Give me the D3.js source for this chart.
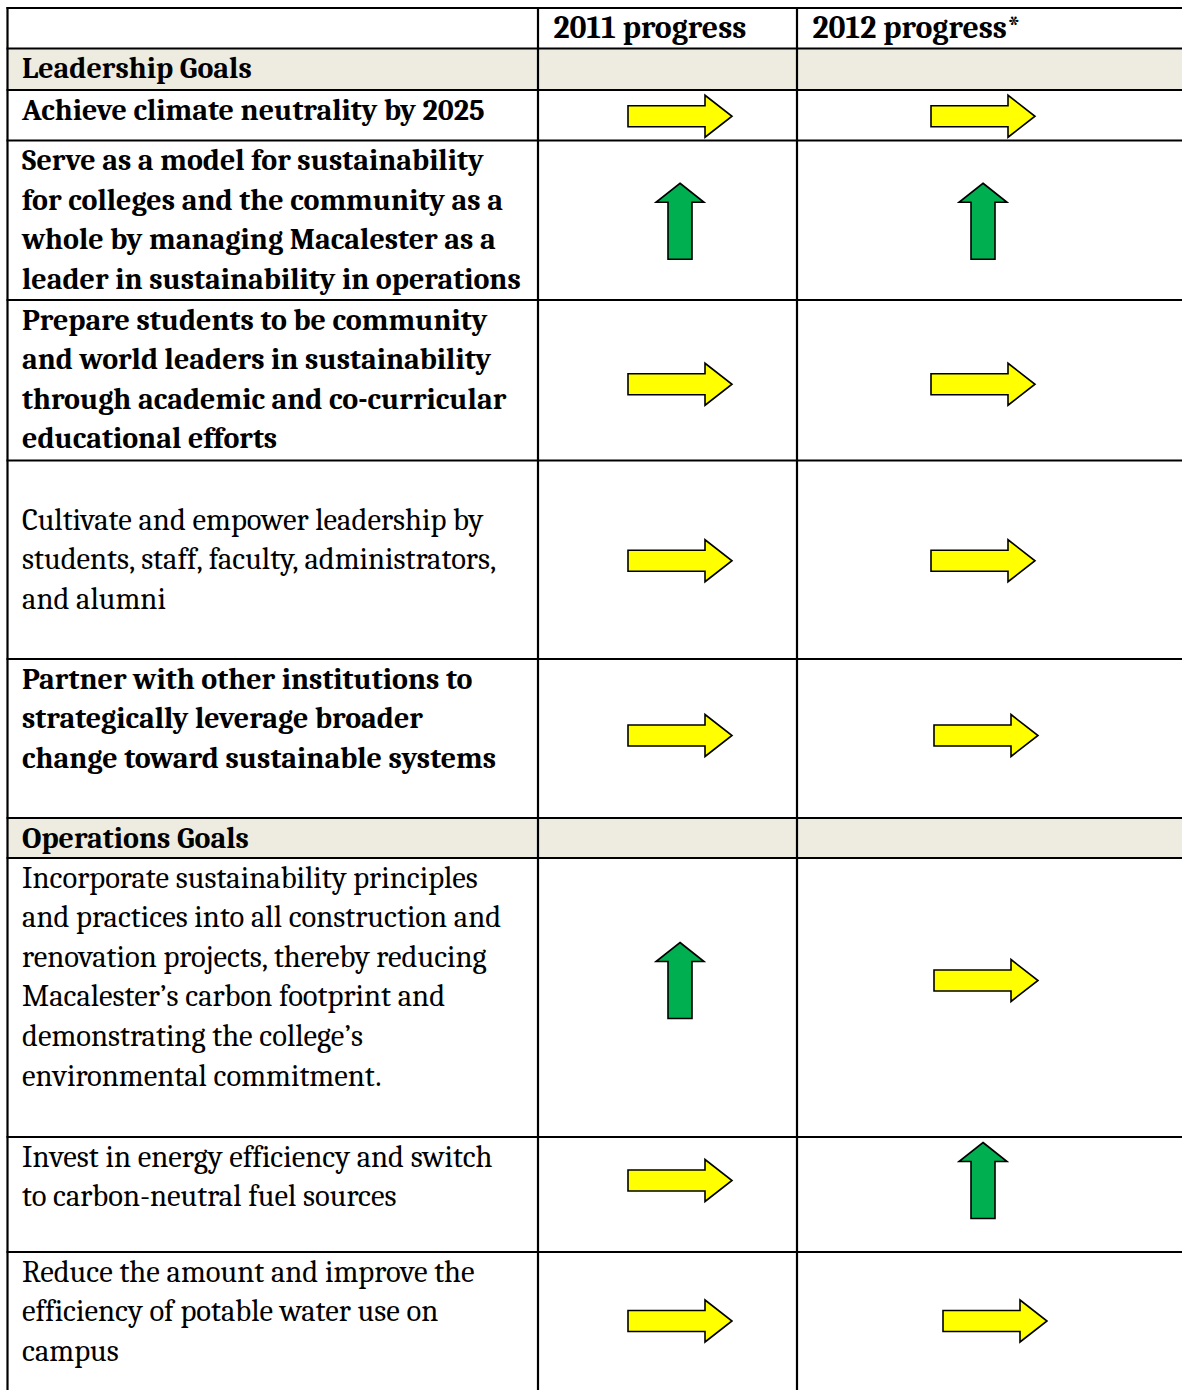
<!DOCTYPE html>
<html>
<head>
<meta charset="utf-8">
<script src="https://cdn.jsdelivr.net/npm/d3@7"></script>
<style>
  html, body { margin: 0; padding: 0; background: #ffffff; }
  svg { display: block; }
  text { font-family: "Caladea", "Cambria", "Liberation Serif", serif; font-size: 30.5px; fill: #000; }
</style>
</head>
<body>
<svg id="chart" width="1182" height="1390"></svg>
<script>
// ---------------- DATA ----------------
const columnHeaders = ["", "2011 progress", "2012 progress*"];

const rowKinds = ["header", "group", "goal", "goal", "goal", "goal", "goal", "group", "goal", "goal", "goal"];

const rowBold = [true, true, true, true, true, false, true, true, false, false, false];

const goalLines = [
  [],
  ["Leadership Goals"],
  ["Achieve climate neutrality by 2025"],
  ["Serve as a model for sustainability", "for colleges and the community as a", "whole by managing Macalester as a", "leader in sustainability in operations"],
  ["Prepare students to be community", "and world leaders in sustainability", "through academic and co-curricular", "educational efforts"],
  ["", "Cultivate and empower leadership by", "students, staff, faculty, administrators,", "and alumni"],
  ["Partner with other institutions to", "strategically leverage broader", "change toward sustainable systems"],
  ["Operations Goals"],
  ["Incorporate sustainability principles", "and practices into all construction and", "renovation projects, thereby reducing", "Macalester\u2019s carbon footprint and", "demonstrating the college\u2019s", "environmental commitment."],
  ["Invest in energy efficiency and switch", "to carbon-neutral fuel sources"],
  ["Reduce the amount and improve the", "efficiency of potable water use on", "campus"]
];

// progress: "up" = improving (green up arrow), "steady" = steady (yellow right arrow)
const progress2011 = [null, null, "steady", "up", "steady", "steady", "steady", null, "up", "steady", "steady"];
const progress2012 = [null, null, "steady", "up", "steady", "steady", "steady", null, "steady", "up", "steady"];

// ---------------- LAYOUT ----------------
const W = 1182, H = 1390;
const TABLE_TOP = 8;
const rowHeights = [40.5, 41.5, 50.5, 159.5, 160.5, 198.5, 159, 40, 279, 115, 138];
const colEdges = [7.5, 538, 797, 1190];
const LINE_H = 39.6;
const TEXT_PAD_X = 15;
const FIRST_BASELINE = 29.5;
const BOLD_SIZE = 30;
const NORMAL_SIZE = 30.6;
const HEADER_SIZE = 31.8;
const arrowInset = [142, 186];          // arrow centre offset from column left edge
const arrowNudgeY = [0, 0, 1, 1, 4, 1, -3, 0, -17, -14, 0];
const arrowNudgeX2012 = [0, 0, 0, 0, 0, 0, 3, 0, 3, 0, 12];

const rowTops = [];
rowHeights.reduce((acc, h) => { rowTops.push(acc); return acc + h; }, TABLE_TOP);
const rowIdx = d3.range(rowKinds.length);

const y = d3.scaleOrdinal().domain(rowIdx).range(rowTops);
const yCenter = i => y(i) + rowHeights[i] / 2;

const colorScale = d3.scaleOrdinal().domain(["up", "steady"]).range(["#00B050", "#FFFF00"]);

const svg = d3.select("#chart");

// group row backgrounds
svg.append("g").selectAll("rect")
  .data(rowIdx.filter(i => rowKinds[i] === "group"))
  .join("rect")
  .attr("x", colEdges[0]).attr("y", i => y(i))
  .attr("width", W - colEdges[0]).attr("height", i => rowHeights[i])
  .attr("fill", "#EEECE1");

// grid lines (table continues past the bottom edge, so no closing line)
const tableBottom = rowTops[rowTops.length - 1] + rowHeights[rowHeights.length - 1];
svg.append("g").selectAll("line")
  .data(rowTops)
  .join("line")
  .attr("x1", colEdges[0] - 1).attr("x2", W + 5)
  .attr("y1", d => d).attr("y2", d => d)
  .attr("stroke", "#000").attr("stroke-width", 2.2);

svg.append("g").selectAll("line")
  .data(colEdges.slice(0, 3))
  .join("line")
  .attr("x1", d => d).attr("x2", d => d)
  .attr("y1", TABLE_TOP - 1).attr("y2", tableBottom + 5)
  .attr("stroke", "#000").attr("stroke-width", 2.2);

// header texts
svg.append("g").selectAll("text")
  .data([1, 2])
  .join("text")
  .attr("x", c => colEdges[c] + TEXT_PAD_X + 0.5)
  .attr("y", y(0) + FIRST_BASELINE)
  .style("font-weight", "bold")
  .style("font-size", HEADER_SIZE + "px")
  .text(c => columnHeaders[c]);

// goal texts
const textG = svg.append("g");
rowIdx.forEach(i => {
  const t = textG.append("text")
    .attr("x", colEdges[0] + TEXT_PAD_X - 0.5)
    .attr("y", y(i) + FIRST_BASELINE)
    .style("font-weight", rowBold[i] ? "bold" : "normal")
    .style("font-size", (rowBold[i] ? BOLD_SIZE : NORMAL_SIZE) + "px");
  goalLines[i].forEach((line, k) => {
    t.append("tspan")
      .attr("x", colEdges[0] + TEXT_PAD_X - 0.5)
      .attr("y", y(i) + FIRST_BASELINE + k * LINE_H)
      .text(line);
  });
});

// arrows
function arrowPath(kind) {
  if (kind === "steady") {
    // right arrow, 104 wide
    return d3.line()([[-52, -10.5], [25, -10.5], [25, -21], [52, 0], [25, 21], [25, 10.5], [-52, 10.5]]) + "Z";
  }
  // up arrow, 48 wide, 76 tall
  return d3.line()([[0, -38], [24, -19], [12, -19], [12, 38], [-12, 38], [-12, -19], [-24, -19]]) + "Z";
}

const cells = [];
rowIdx.forEach(i => {
  if (progress2011[i]) cells.push({ row: i, col: 0, kind: progress2011[i] });
  if (progress2012[i]) cells.push({ row: i, col: 1, kind: progress2012[i] });
});

svg.append("g").selectAll("path")
  .data(cells)
  .join("path")
  .attr("transform", d => {
    const cx = colEdges[d.col + 1] + arrowInset[d.col] + (d.col === 1 ? arrowNudgeX2012[d.row] : 0);
    const cy = yCenter(d.row) + arrowNudgeY[d.row];
    return `translate(${cx},${cy})`;
  })
  .attr("d", d => arrowPath(d.kind))
  .attr("fill", d => colorScale(d.kind))
  .attr("stroke", "#000")
  .attr("stroke-width", 1.6)
  .attr("stroke-linejoin", "miter");
</script>
</body>
</html>
